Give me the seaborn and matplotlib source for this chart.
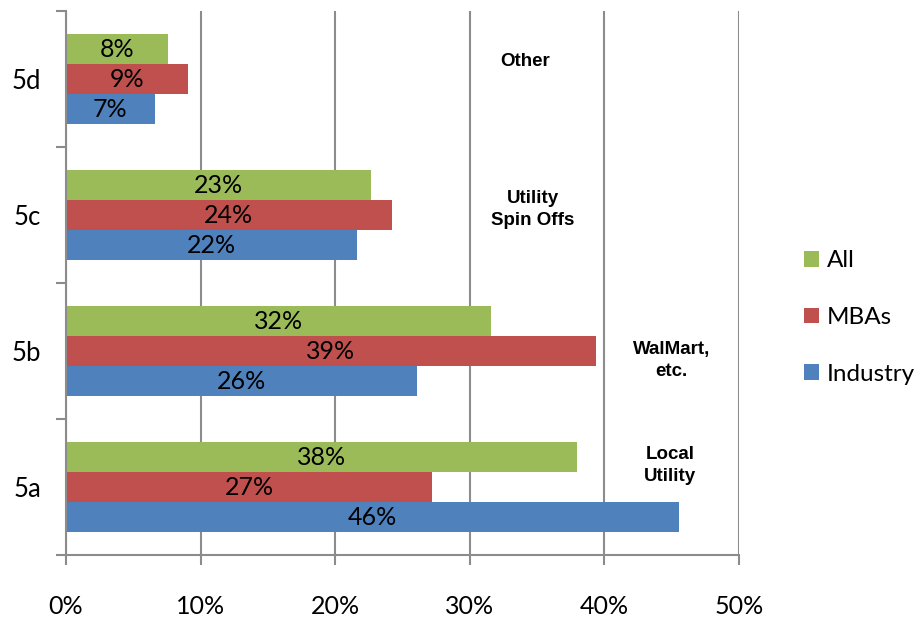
import matplotlib
matplotlib.use("Agg")
import matplotlib.pyplot as plt
import seaborn as sns
import pandas as pd

# survey questions, top to bottom as drawn
questions = ["5d", "5c", "5b", "5a"]
groups = ["All", "MBAs", "Industry"]

# percent answering
all_vals = [7.6, 22.7, 31.6, 38.0]
mba_vals = [9.1, 24.2, 39.4, 27.2]
industry_vals = [6.6, 21.6, 26.1, 45.6]

notes = ["Other", "Utility\nSpin Offs", "WalMart,\netc.", "Local\nUtility"]
note_x = [34.1, 34.7, 45.0, 44.9]
note_dy = [-0.13, -0.04, 0.07, -0.16]

x_ticks = [0, 10, 20, 30, 40, 50]
colors = {"All": "#9BBB59", "MBAs": "#C0504D", "Industry": "#4F81BD"}

df = pd.DataFrame({
    "question": questions * 3,
    "group": ["All"] * 4 + ["MBAs"] * 4 + ["Industry"] * 4,
    "pct": all_vals + mba_vals + industry_vals,
})

sns.set_theme(style="white")
plt.rcParams["font.family"] = ["Lato", "DejaVu Sans"]
plt.rcParams["text.color"] = "black"
plt.rcParams["xtick.labelcolor"] = "black"
plt.rcParams["ytick.labelcolor"] = "black"
grey = "#8C8C8C"

fig = plt.figure(figsize=(9.19, 6.19), dpi=100)
ax = fig.add_axes([0.0718, 0.103, 0.732, 0.879])

sns.barplot(data=df, x="pct", y="question", hue="group", order=questions,
            hue_order=groups, palette=colors, orient="h", width=0.66, gap=0,
            saturation=1, linewidth=0, ax=ax)

for cont, g in zip(ax.containers, groups):
    vals = df[df["group"] == g]["pct"].tolist()
    ax.bar_label(cont, labels=[f"{v:.0f}%" for v in vals], label_type="center",
                 fontsize=18, color="black")

for i, (txt, nx, dy) in enumerate(zip(notes, note_x, note_dy)):
    ax.text(nx, i + dy, txt, ha="center", va="center", fontsize=13.5,
            fontweight="bold", family="Liberation Sans", linespacing=1.4)

ax.set_xlim(0, 50)
ax.set_ylim(3.5, -0.5)
ax.set_xticks(x_ticks, [f"{t}%" for t in x_ticks])
ax.set_yticks(range(len(questions)), questions)
ax.set_yticks([-0.5, 0.5, 1.5, 2.5, 3.5], minor=True)
ax.tick_params(axis="x", length=7.5, width=1.5, color=grey, pad=21, labelsize=18,
               direction="out", bottom=True)
ax.tick_params(axis="y", which="major", length=0, pad=18, labelsize=18.5)
ax.tick_params(axis="y", which="minor", length=7.5, width=1.5, color=grey,
               direction="out", left=True)
ax.set_xlabel("")
ax.set_ylabel("")

ax.grid(axis="x", color=grey, linewidth=1.5)
ax.set_axisbelow(True)
for side in ["top", "right"]:
    ax.spines[side].set_visible(False)
for side in ["left", "bottom"]:
    ax.spines[side].set_color(grey)
    ax.spines[side].set_linewidth(1.5)

ax.legend(loc="center left", bbox_to_anchor=(0.875, 0.487),
          bbox_transform=fig.transFigure, frameon=False, fontsize=17.5,
          handlelength=0.62, handleheight=0.62, handletextpad=0.3,
          labelspacing=1.47, borderpad=0, borderaxespad=0)

fig.savefig("out.png", dpi=100)
